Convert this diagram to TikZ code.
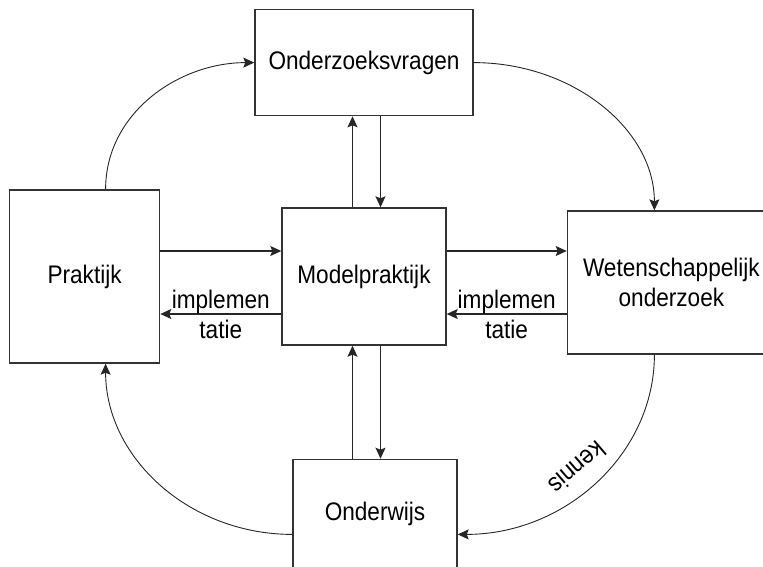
\documentclass[tikz,border=0pt]{standalone}
\usepackage{fontspec}
\setmainfont{Liberation Sans}[FakeStretch=0.89]
\usetikzlibrary{arrows.meta,positioning,calc}

\begin{document}
\begin{tikzpicture}[x=1pt,y=1pt,>={Stealth[length=11pt,width=10pt,inset=2pt]},
  font=\fontsize{25.4}{30}\selectfont,
  box node/.style={draw=black!80,line width=1.4pt,inner sep=0pt,align=center},
  link/.style={->,line width=1.2pt,black!85},
  ring link/.style={->,line width=0.9pt,black!85},
  edge label/.style={black,align=center}]
  \useasboundingbox (0,0) rectangle (763,-566);

  \node[box node,minimum width=164pt,minimum height=137pt] (model) at (364,-276.5) {Modelpraktijk};
  \node[box node,minimum width=150pt,minimum height=173pt,left=121pt of model] (praktijk) {Praktijk};
  \node[box node,minimum width=218pt,minimum height=106pt,above=91pt of model] (vragen) {Onderzoeksvragen};
  \node[box node,minimum width=208pt,minimum height=143pt,right=120pt of model,yshift=-6pt] (wetensch) {Wetenschappelijk\\onderzoek};
  \node[box node,minimum width=164pt,minimum height=110pt,below=113pt of model,xshift=11pt] (onderwijs) {Onderwijs};

  % left and right of the model
  \draw[link] ([yshift=25.5pt]model.west -| praktijk.east) -- ([yshift=25.5pt]model.west);
  \draw[link] ([yshift=-37.5pt]model.west) -- ([yshift=-37.5pt]model.west -| praktijk.east)
    node[midway,edge label] {implemen\\tatie};
  \draw[link] ([yshift=25.5pt]model.east) -- ([yshift=25.5pt]model.east -| wetensch.west);
  \draw[link] ([yshift=-37.5pt]model.east -| wetensch.west) -- ([yshift=-37.5pt]model.east)
    node[midway,edge label] {implemen\\tatie};

  % above and below the model
  \draw[link] ([xshift=-11.5pt]model.north) -- ([xshift=-11.5pt]model.north |- vragen.south);
  \draw[link] ([xshift=16.5pt]model.north |- vragen.south) -- ([xshift=16.5pt]model.north);
  \draw[link] ([xshift=-11.5pt]model.south |- onderwijs.north) -- ([xshift=-11.5pt]model.south);
  \draw[link] ([xshift=16.5pt]model.south) -- ([xshift=16.5pt]model.south |- onderwijs.north);

  % the outer ring
  \draw[ring link] ([xshift=21pt]praktijk.north) .. controls ([xshift=21pt,yshift=76pt]praktijk.north) and ([xshift=-76pt]vragen.west) .. (vragen.west);
  \draw[ring link] (vragen.east) .. controls ([xshift=99pt]vragen.east) and ([xshift=-17pt,yshift=81pt]wetensch.north) .. ([xshift=-17pt]wetensch.north);
  \draw[ring link] ([xshift=-17pt]wetensch.south) .. controls ([xshift=-17pt,yshift=-99pt]wetensch.south) and ([xshift=108pt,yshift=-20pt]onderwijs.east) .. ([yshift=-20pt]onderwijs.east)
    node[pos=0.52,sloped,allow upside down,below=10pt,edge label] {kennis};
  \draw[ring link] ([yshift=-20pt]onderwijs.west) .. controls ([xshift=-103pt,yshift=-20pt]onderwijs.west) and ([xshift=21pt,yshift=-94pt]praktijk.south) .. ([xshift=21pt]praktijk.south);
\end{tikzpicture}
\end{document}
